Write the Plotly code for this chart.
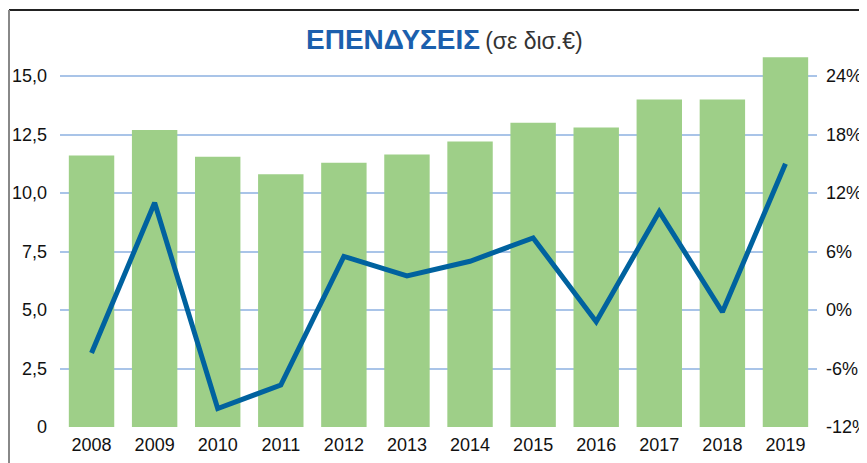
import plotly.graph_objects as go

years = ["2008", "2009", "2010", "2011", "2012", "2013", "2014", "2015", "2016", "2017", "2018", "2019"]
investment_bn = [11.6, 12.7, 11.55, 10.8, 11.3, 11.65, 12.2, 13.0, 12.8, 14.0, 14.0, 15.8]
growth_pct = [-4.4, 11.0, -10.1, -7.7, 5.5, 3.5, 5.0, 7.4, -1.2, 10.1, -0.2, 15.0]

left_tickvals = [0, 2.5, 5.0, 7.5, 10.0, 12.5, 15.0]
left_ticktext = ["0", "2,5", "5,0", "7,5", "10,0", "12,5", "15,0"]
right_tickvals = [-12, -6, 0, 6, 12, 18, 24]
right_ticktext = ["-12%", "-6%", "0%", "6%", "12%", "18%", "24%"]

title_main = "ΕΠΕΝΔΥΣΕΙΣ"
title_sub = "(σε δισ.€)"

FONT = "Liberation Sans, Arial, sans-serif"
OFF = 8  # page body margin
W, H = 867 - OFF, 463 - OFF
ml, mr, mt, mb = 60 - OFF, 50, 48 - OFF, 36
pw = W - ml - mr
ph = H - mt - mb

fig = go.Figure()
fig.add_trace(go.Bar(x=years, y=investment_bn, marker=dict(color="#9ecf88", line=dict(width=0)),
                     yaxis="y", name="Επενδύσεις"))
fig.add_trace(go.Scatter(x=years, y=growth_pct, mode="lines", line=dict(color="#00629f", width=5),
                         yaxis="y2", name="Μεταβολή"))

ymax = 16.2
fig.update_layout(
    width=W, height=H,
    margin=dict(l=ml, r=mr, t=mt, b=mb, autoexpand=False),
    paper_bgcolor="white", plot_bgcolor="white",
    showlegend=False,
    bargap=0.28,
    font=dict(family=FONT, size=18, color="#111111"),
    xaxis=dict(type="category", showgrid=False, zeroline=False, showline=False, ticks="",
               tickfont=dict(size=18), ticklabelstandoff=5, automargin=False),
    yaxis=dict(range=[0, ymax], tickvals=left_tickvals, ticktext=left_ticktext,
               showgrid=True, gridcolor="#a9c4e8", gridwidth=1.5, zeroline=False, showline=False,
               ticks="", ticklabelstandoff=12, tickfont=dict(size=18), automargin=False),
    yaxis2=dict(range=[-12, -12 + ymax * 2.4], tickvals=right_tickvals, ticktext=right_ticktext,
                overlaying="y", side="right", showgrid=False, zeroline=False, showline=False,
                ticks="", ticklabelstandoff=8, tickfont=dict(size=18), automargin=False),
)

def px_x(x):
    return (x - OFF - ml) / pw

def px_y(y):
    return (H + OFF - mb - y) / ph

# frame lines
fig.add_shape(type="line", xref="paper", yref="paper", x0=px_x(9), x1=px_x(867), y0=px_y(10), y1=px_y(10),
              line=dict(color="#222222", width=2))
fig.add_shape(type="line", xref="paper", yref="paper", x0=px_x(9), x1=px_x(9), y0=px_y(10), y1=px_y(463),
              line=dict(color="#888888", width=2))

fig.add_annotation(xref="paper", yref="paper", x=px_x(444), y=px_y(40), showarrow=False,
                   xanchor="center", yanchor="middle",
                   text=f"<b><span style='color:#1b5fad;font-size:28px'>{title_main}</span></b>"
                        f" <span style='color:#333333;font-size:23px'>{title_sub}</span>",
                   font=dict(family=FONT))

fig.write_html("out.html")
